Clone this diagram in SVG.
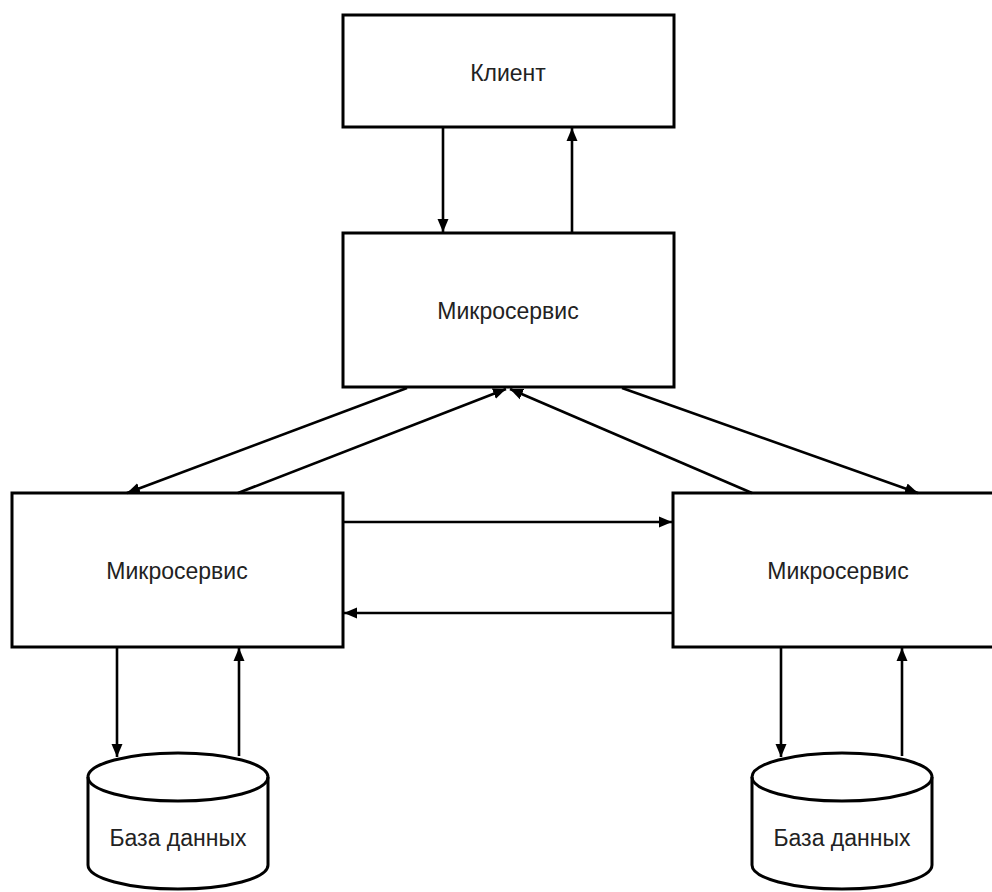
<svg xmlns="http://www.w3.org/2000/svg" width="992" height="892" viewBox="0 0 992 892">
<defs>
<marker id="ah" markerUnits="userSpaceOnUse" markerWidth="14" markerHeight="14" viewBox="0 0 14 14" refX="13" refY="7" orient="auto">
<path d="M0,1.5 L13,7 L0,12.5 z" fill="#000"/>
</marker>
<style>
.box{fill:#fff;stroke:#000;stroke-width:3}
.lbl{font-family:"Liberation Sans",Arial,sans-serif;font-size:23px;fill:#222;text-anchor:middle;dominant-baseline:central}
.con line{stroke:#000;stroke-width:2.6;marker-end:url(#ah)}
</style>
</defs>
<rect width="992" height="892" fill="#fff"/>
<g id="client"><rect class="box" x="343" y="15" width="331" height="112"/><text class="lbl" x="508" y="73">Клиент</text></g>
<g id="ms-top"><rect class="box" x="343" y="233" width="331" height="154"/><text class="lbl" x="508" y="311">Микросервис</text></g>
<g id="ms-left"><rect class="box" x="12" y="493" width="331" height="154"/><text class="lbl" x="177" y="571">Микросервис</text></g>
<g id="ms-right"><rect class="box" x="673" y="493" width="331" height="154"/><text class="lbl" x="838" y="571">Микросервис</text></g>
<g id="db-left"><path class="box" d="M88,777 a90,24 0 0 1 180,0 v88 a90,24 0 0 1 -180,0 z"/><path d="M88,777 a90,24 0 0 0 180,0" fill="none" stroke="#000" stroke-width="3"/><text class="lbl" x="178" y="838">База данных</text></g>
<g id="db-right"><path class="box" d="M752,777 a90,24 0 0 1 180,0 v88 a90,24 0 0 1 -180,0 z"/><path d="M752,777 a90,24 0 0 0 180,0" fill="none" stroke="#000" stroke-width="3"/><text class="lbl" x="842" y="838">База данных</text></g>
<g class="con" id="connectors">
<line x1="443" y1="127" x2="443" y2="232"/>
<line x1="572" y1="233" x2="572" y2="128"/>
<line x1="407" y1="388" x2="127" y2="493"/>
<line x1="238" y1="493" x2="506" y2="389"/>
<line x1="752" y1="493" x2="510" y2="389"/>
<line x1="622" y1="388" x2="918" y2="493"/>
<line x1="344" y1="522" x2="672" y2="522"/>
<line x1="673" y1="613" x2="344" y2="613"/>
<line x1="117" y1="648" x2="117" y2="757"/>
<line x1="239" y1="756" x2="239" y2="648"/>
<line x1="781" y1="648" x2="781" y2="757"/>
<line x1="902" y1="756" x2="902" y2="648"/>
</g>
</svg>
